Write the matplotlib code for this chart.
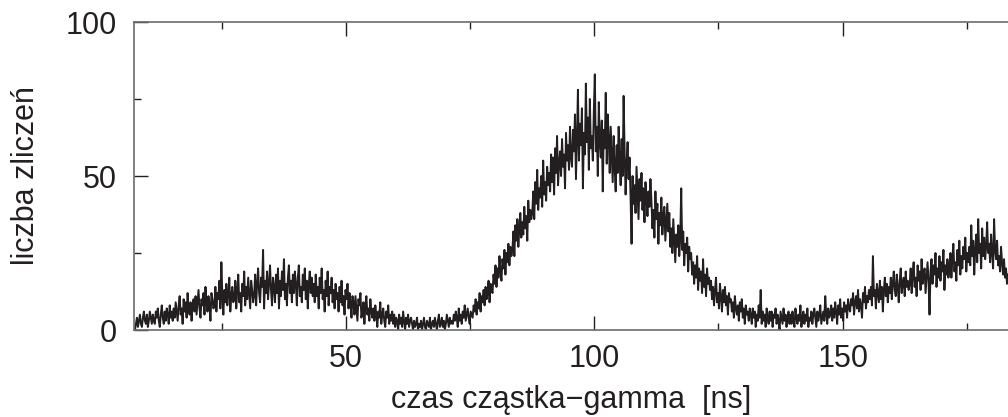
import numpy as np
import matplotlib
matplotlib.use("Agg")
from matplotlib import pyplot as plt
from matplotlib.ticker import MultipleLocator

# histogram: bin centres start at 7.5 ns, bin width 0.2 ns (20 bins = 4 ns per row)
bin_start = 7.5
bin_width = 0.2
counts = [
    0, 2, 4, 1, 3, 5, 2, 1, 4, 6, 3, 2, 5, 1, 3, 6, 4, 2, 5, 3,            # 7.5
    2, 6, 4, 7, 3, 1, 5, 8, 4, 2, 6, 3, 7, 5, 2, 8, 4, 6, 3, 7,
    4, 9, 6, 3, 8, 11, 5, 7, 2, 10, 6, 9, 4, 12, 7, 5, 9, 3, 8, 10,
    6, 11, 5, 9, 13, 7, 4, 10, 8, 12, 5, 14, 9, 6, 11, 8, 3, 12, 10, 7,
    8, 14, 6, 12, 10, 16, 7, 22, 11, 5, 13, 9, 15, 8, 12, 17, 6, 11, 14, 9,  # 23.5
    10, 16, 7, 13, 18, 9, 12, 6, 15, 11, 19, 8, 14, 10, 17, 12, 7, 16, 13, 9,
    11, 18, 8, 15, 20, 12, 9, 17, 14, 26, 7, 16, 12, 19, 10, 15, 21, 13, 8, 17,
    14, 9, 18, 12, 20, 7, 16, 11, 19, 13, 23, 10, 15, 8, 17, 21, 12, 16, 9, 18,
    12, 19, 15, 8, 17, 21, 11, 14, 9, 18, 13, 20, 10, 16, 7, 15, 19, 12, 17, 11,  # 39.5
    15, 9, 18, 11, 14, 7, 17, 12, 20, 10, 13, 6, 16, 11, 19, 8, 14, 12, 17, 9,
    13, 7, 15, 10, 12, 6, 14, 9, 16, 8, 11, 5, 13, 10, 15, 7, 12, 9, 4, 11,
    9, 5, 11, 7, 3, 10, 8, 12, 4, 6, 9, 2, 8, 11, 5, 7, 3, 10, 6, 4,
    7, 3, 8, 5, 1, 6, 4, 9, 2, 5, 7, 3, 1, 6, 4, 8, 2, 5, 3, 6,            # 55.5
    2, 5, 1, 4, 3, 0, 5, 2, 4, 1, 6, 3, 0, 4, 2, 5, 1, 3, 4, 2,
    0, 3, 1, 2, 4, 0, 2, 1, 3, 0, 2, 4, 1, 0, 3, 2, 1, 4, 0, 2,
    3, 1, 4, 2, 0, 3, 5, 1, 2, 4, 1, 3, 0, 2, 5, 3, 1, 4, 2, 3,
    2, 5, 3, 6, 4, 1, 7, 3, 5, 2, 6, 4, 8, 3, 5, 7, 4, 2, 6, 5,            # 71.5
    4, 8, 6, 10, 5, 9, 7, 12, 6, 11, 9, 13, 8, 14, 10, 12, 16, 9, 15, 13,
    12, 18, 15, 21, 14, 20, 17, 24, 19, 16, 23, 20, 26, 18, 25, 22, 28, 21, 27, 24,
    26, 32, 24, 34, 29, 36, 27, 33, 38, 30, 35, 31, 40, 33, 37, 29, 42, 35, 39, 36,
    38, 45, 36, 48, 41, 52, 39, 46, 43, 50, 40, 55, 44, 48, 42, 53, 47, 51, 45, 57,  # 87.5
    48, 56, 44, 59, 51, 63, 47, 54, 58, 50, 62, 53, 57, 46, 64, 55, 60, 52, 66, 56,
    53, 65, 58, 70, 49, 62, 78, 55, 67, 60, 72, 46, 64, 57, 80, 61, 69, 52, 75, 59,
    63, 55, 71, 83, 58, 66, 50, 74, 61, 56, 68, 45, 65, 59, 77, 54, 70, 62, 51, 66,
    57, 48, 63, 53, 45, 60, 51, 66, 55, 47, 62, 50, 76, 58, 44, 54, 61, 49, 56, 43,  # 103.5
    28, 50, 41, 47, 38, 53, 44, 36, 49, 42, 51, 39, 46, 35, 48, 43, 37, 45, 40, 49,
    42, 33, 39, 30, 45, 36, 41, 28, 38, 34, 43, 31, 37, 40, 29, 35, 41, 32, 38, 27,
    33, 25, 36, 29, 22, 31, 27, 34, 24, 30, 46, 26, 32, 21, 28, 25, 30, 19, 27, 23,
    25, 18, 22, 15, 21, 17, 24, 13, 20, 16, 19, 12, 23, 14, 18, 11, 20, 15, 17, 13,  # 119.5
    16, 10, 14, 8, 13, 17, 9, 12, 7, 15, 11, 6, 13, 9, 14, 8, 11, 5, 12, 9,
    10, 6, 9, 4, 11, 7, 5, 8, 3, 9, 6, 10, 4, 7, 2, 8, 5, 6, 3, 7,
    5, 2, 7, 4, 6, 1, 5, 3, 8, 4, 13, 2, 6, 3, 5, 1, 7, 4, 2, 6,
    3, 6, 1, 5, 4, 7, 2, 5, 3, 0, 6, 4, 2, 7, 3, 5, 1, 4, 6, 2,            # 135.5
    5, 2, 6, 3, 1, 7, 4, 2, 5, 3, 8, 1, 4, 6, 2, 5, 3, 7, 1, 4,
    3, 6, 2, 5, 7, 4, 1, 6, 3, 5, 8, 2, 4, 6, 3, 11, 5, 2, 7, 4,
    5, 8, 3, 7, 4, 9, 6, 2, 8, 5, 10, 4, 7, 3, 9, 6, 8, 4, 10, 7,
    6, 10, 8, 12, 5, 9, 11, 7, 13, 6, 10, 8, 4, 12, 9, 14, 7, 11, 9, 13,  # 151.5
    10, 14, 8, 24, 11, 13, 7, 15, 12, 9, 16, 10, 14, 6, 13, 17, 11, 15, 9, 14,
    12, 17, 10, 15, 19, 13, 11, 18, 14, 9, 16, 20, 12, 15, 17, 11, 19, 14, 16, 13,
    15, 20, 12, 18, 22, 14, 17, 11, 21, 16, 19, 13, 23, 15, 18, 20, 12, 17, 22, 16,
    5, 19, 23, 15, 21, 18, 25, 14, 20, 17, 24, 16, 22, 19, 26, 13, 21, 18, 23, 17,  # 167.5
    20, 25, 17, 23, 28, 19, 22, 16, 26, 21, 29, 18, 24, 20, 27, 23, 30, 19, 25, 22,
    27, 21, 34, 24, 29, 18, 26, 31, 22, 36, 25, 28, 20, 33, 24, 30, 23, 27, 35, 25,
    28, 22, 31, 25, 20, 36, 26, 23, 29, 21, 24, 19, 27, 22, 18, 23, 17, 20, 15, 18,  # 179.5
]
time_ns = bin_start + bin_width * np.arange(len(counts))

x_major = [50, 100, 150]
y_major = [0, 50, 100]

plt.rcParams['font.family'] = ['Liberation Sans', 'DejaVu Sans']

fig = plt.figure(figsize=(10.08, 4.17), dpi=100)
ax = fig.add_axes([0.1329, 0.2086, 0.8671, 0.7386])

ax.plot(time_ns, counts, color='#231f20', linewidth=1.4)

ax.set_xlim(7.3, 183.3)
ax.set_ylim(0, 100)
ax.set_xticks(x_major)
ax.set_yticks(y_major)
ax.xaxis.set_minor_locator(MultipleLocator(25))
ax.yaxis.set_minor_locator(MultipleLocator(25))

ax.tick_params(which='both', direction='in', top=True, right=False,
               labelsize=22, colors='#231f20', width=1.0)
ax.tick_params(which='major', length=10, pad=12)
ax.tick_params(which='minor', length=5)
ax.tick_params(axis='x', which='major', pad=10)

for side in ['left', 'bottom', 'top']:
    ax.spines[side].set_color('#6b6b6b')
    ax.spines[side].set_linewidth(1.2)
ax.spines['right'].set_visible(False)

ax.set_xlabel("czas cząstka\u2212gamma  [ns]", fontsize=22, color='#231f20', labelpad=8)
ax.set_ylabel("liczba zliczeń", fontsize=22, color='#231f20', labelpad=18)

fig.savefig("out.png", dpi=100)
